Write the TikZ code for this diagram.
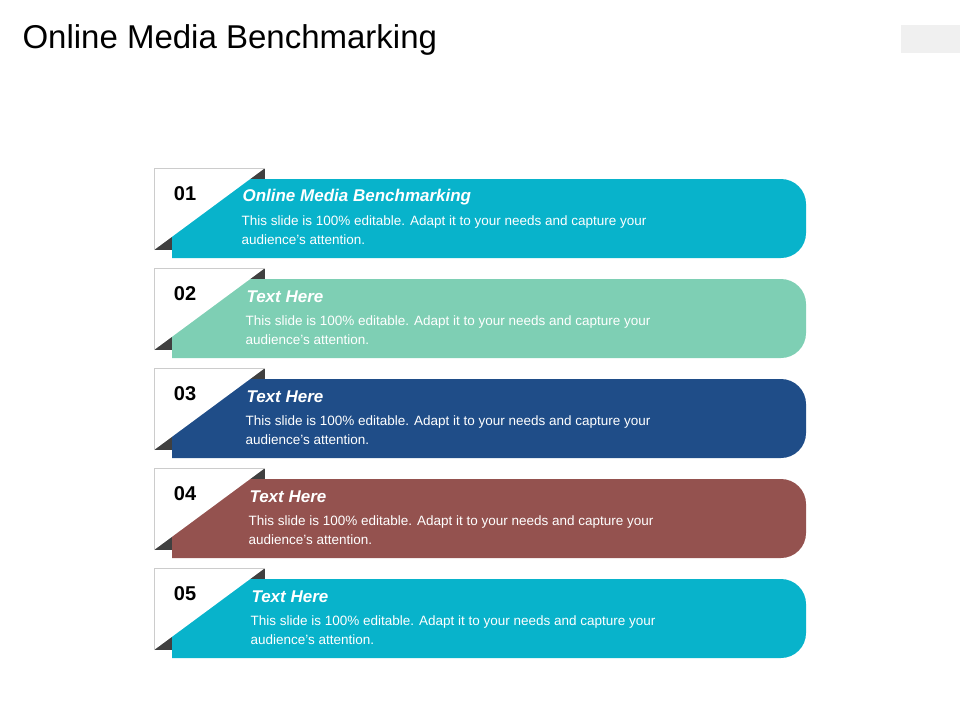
\documentclass[tikz,border=0pt]{standalone}
\usepackage{fontspec}
\setmainfont{Liberation Sans}
\definecolor{cTeal}{HTML}{08B3CB}
\definecolor{cMint}{HTML}{7ECFB4}
\definecolor{cNavy}{HTML}{1F4D88}
\definecolor{cBrown}{HTML}{94524F}
\tikzset{
  headtext/.style={anchor=west,text=white,font=\fontsize{17}{20}\selectfont\bfseries\itshape},
  bodytext/.style={anchor=north west,text=white,align=left,font=\fontsize{13.5}{19}\selectfont},
  numtext/.style={font=\fontsize{20}{24}\selectfont\bfseries}
}
\begin{document}
\begin{tikzpicture}[x=1pt,y=-1pt]
\useasboundingbox (0,0) rectangle (960,720);
\fill[black!6] (901,25) rectangle (960,53);
\node[anchor=west,font=\fontsize{33}{38}\selectfont] (title) at (19,40) {Online Media Benchmarking};
\foreach \i/\col/\head/\dx in {0/cTeal/Online Media Benchmarking/0,1/cMint/Text Here/4,2/cNavy/Text Here/4,3/cBrown/Text Here/7,4/cTeal/Text Here/9}{
  \pgfmathsetmacro{\yy}{168+100*\i}
  % square, band, cut corner
  \fill[black!75] (154,\yy) rectangle (265,\yy+82);
  \fill[\col,rounded corners=25pt] (172,\yy+90) -- (172,\yy+11) -- (806,\yy+11) -- (806,\yy+90) [sharp corners] -- cycle;
  \fill[\col] (172,\yy+90) rectangle (300,\yy+11);
  \fill[white] (154,\yy+82) -- (154,\yy) -- (265,\yy) -- cycle;
  \draw[black!20] (154,\yy+82) -- (154,\yy) -- (265,\yy);
  \node[numtext] (num\i) at (185,\yy+26) {0\the\numexpr\i+1\relax};
  \node[headtext] (head\i) at (239+\dx,\yy+29) {\head};
  \node[bodytext] (body\i) at (238+\dx,\yy+44) {This slide is 100\% editable. Adapt it to your needs and capture your\\audience's attention.};
}
\end{tikzpicture}
\end{document}
